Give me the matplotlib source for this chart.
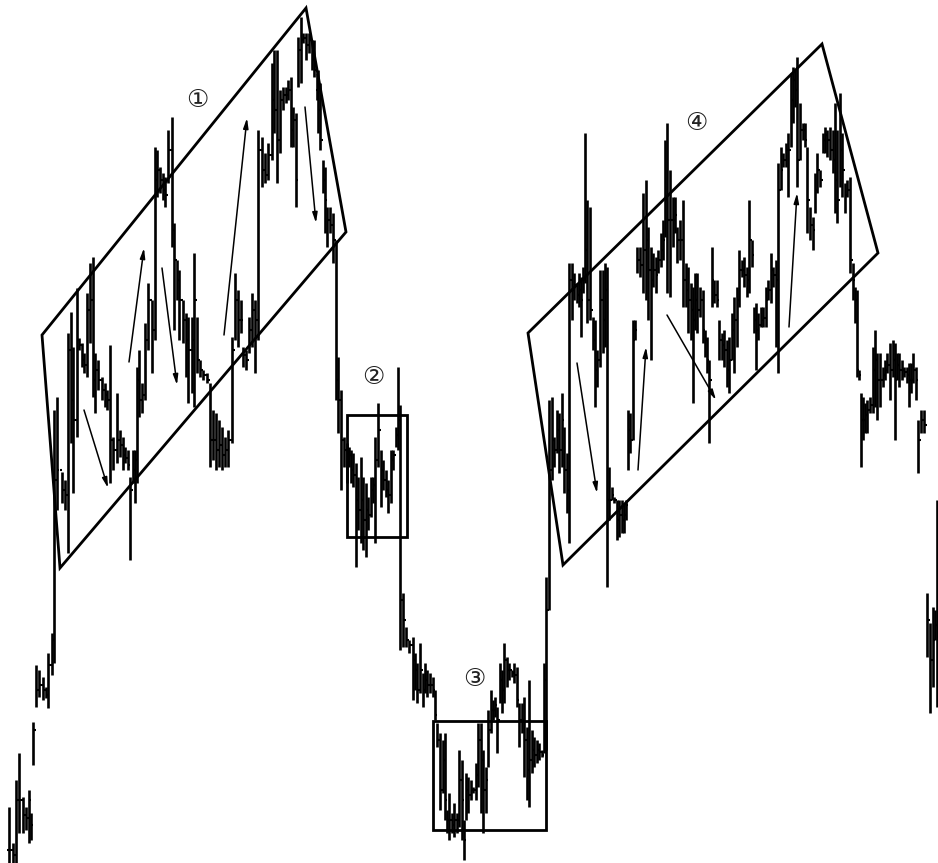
import matplotlib
matplotlib.use("Agg")
import matplotlib.pyplot as plt
from matplotlib.patches import Polygon, Rectangle

# bars: day, top of range, bottom of range, close
# (vertical scale runs downward, as in the picture)
day = [9, 13, 16, 19, 23, 26, 29, 31, 33, 36, 39, 43, 46, 48, 52, 54,
       57, 62, 65, 68, 71, 73, 77, 79, 82, 84, 87, 90, 93, 95, 98, 102,
       105, 107, 110, 113, 117, 120, 123, 125, 128, 130, 133, 135, 137, 139, 142, 145,
       148, 152, 155, 157, 160, 163, 165, 168, 172, 174, 177, 179, 183, 186, 188, 192,
       194, 197, 200, 203, 207, 210, 213, 216, 219, 222, 225, 228, 232, 235, 238, 241,
       243, 246, 249, 252, 255, 258, 262, 265, 268, 272, 274, 277, 280, 283, 286, 288,
       291, 293, 296, 298, 301, 303, 306, 309, 312, 314, 317, 318, 320, 323, 325, 327,
       330, 333, 336, 338, 341, 344, 347, 349, 351, 353, 356, 358, 361, 363, 366, 368,
       371, 373, 375, 378, 381, 383, 386, 388, 391, 393, 396, 398, 400, 403, 406, 409,
       413, 415, 417, 420, 423, 425, 427, 430, 433, 435, 437, 440, 443, 445, 447, 449,
       452, 454, 457, 459, 462, 464, 466, 468, 471, 473, 476, 478, 481, 483, 486, 488,
       491, 493, 495, 497, 500, 502, 504, 507, 509, 512, 514, 517, 519, 522, 524, 527,
       529, 532, 534, 537, 539, 542, 544, 546, 549, 552, 554, 557, 559, 562, 564, 567,
       569, 572, 574, 577, 579, 581, 583, 585, 587, 590, 593, 595, 597, 600, 603, 605,
       607, 609, 612, 614, 617, 619, 622, 624, 626, 628, 630, 633, 635, 637, 640, 643,
       646, 648, 651, 653, 656, 658, 661, 663, 665, 667, 670, 673, 675, 677, 680, 683,
       686, 688, 691, 693, 695, 697, 700, 703, 705, 707, 709, 712, 714, 717, 719, 722,
       724, 727, 729, 732, 734, 737, 739, 742, 744, 747, 749, 752, 754, 756, 758, 761,
       763, 766, 768, 771, 773, 776, 778, 781, 783, 786, 788, 791, 793, 795, 797, 800,
       803, 805, 807, 810, 813, 815, 817, 820, 823, 825, 827, 830, 833, 835, 837, 840,
       842, 845, 847, 850, 853, 855, 857, 859, 861, 863, 865, 867, 870, 873, 875, 877,
       880, 883, 885, 887, 890, 893, 895, 897, 899, 902, 904, 907, 909, 911, 913, 916,
       918, 921, 924, 927, 930, 933, 935, 937]

top = [807, 843, 780, 753, 797, 807, 790, 813, 722, 665, 670, 677, 687, 653, 633, 410,
       397, 472, 480, 333, 312, 347, 288, 338, 343, 353, 293, 263, 257, 353, 360, 377,
       383, 390, 345, 437, 393, 430, 437, 447, 450, 477, 450, 450, 367, 350, 383, 323,
       283, 300, 147, 150, 167, 173, 177, 130, 117, 223, 260, 270, 300, 313, 317, 317,
       253, 317, 360, 370, 373, 383, 410, 413, 420, 427, 437, 430, 337, 273, 290, 300,
       347, 350, 317, 293, 300, 130, 137, 153, 143, 63, 50, 50, 90, 87, 87, 80,
       77, 107, 113, 37, 17, 33, 33, 33, 40, 40, 73, 70, 83, 160, 167, 207,
       207, 213, 240, 357, 390, 437, 443, 447, 450, 453, 463, 477, 457, 477, 483, 497,
       477, 477, 437, 403, 450, 460, 470, 480, 450, 450, 427, 367, 405, 593, 627, 640,
       637, 653, 663, 643, 673, 663, 670, 673, 677, 690, 723, 733, 740, 733, 810, 793,
       813, 803, 813, 750, 760, 820, 773, 777, 780, 787, 763, 723, 723, 750, 767, 710,
       690, 700, 697, 707, 663, 670, 643, 657, 663, 670, 663, 667, 703, 703, 697, 727,
       680, 730, 737, 740, 743, 750, 663, 577, 400, 397, 437, 410, 413, 393, 427, 453,
       263, 263, 273, 283, 273, 277, 267, 133, 200, 207, 317, 320, 350, 270, 270, 263,
       267, 467, 487, 497, 500, 500, 500, 503, 500, 410, 413, 320, 320, 247, 247, 193,
       180, 227, 247, 253, 257, 250, 233, 220, 140, 123, 170, 197, 197, 227, 220, 200,
       263, 267, 283, 287, 273, 273, 287, 290, 330, 337, 360, 247, 280, 280, 320, 333,
       330, 340, 337, 313, 297, 287, 250, 260, 257, 267, 200, 240, 307, 303, 313, 307,
       307, 287, 280, 253, 267, 260, 163, 147, 153, 143, 133, 73, 67, 70, 57, 103,
       123, 123, 147, 207, 217, 173, 153, 170, 133, 127, 130, 127, 130, 103, 130, 93,
       133, 183, 180, 177, 263, 287, 290, 370, 393, 397, 403, 400, 397, 347, 330, 353,
       353, 367, 360, 353, 343, 340, 343, 353, 353, 360, 367, 367, 363, 363, 353, 367,
       420, 410, 410, 593, 623, 607, 610, 500]

bottom = [863, 863, 863, 833, 833, 830, 843, 840, 765, 707, 697, 700, 698, 708, 675, 663,
          510, 503, 510, 553, 443, 493, 437, 350, 367, 373, 377, 343, 397, 413, 390, 400,
          407, 410, 483, 470, 463, 457, 470, 463, 470, 560, 483, 503, 483, 417, 413, 400,
          350, 373, 340, 197, 193, 200, 207, 183, 247, 330, 300, 340, 343, 377, 403, 393,
          407, 373, 377, 380, 383, 467, 460, 470, 467, 470, 467, 467, 443, 340, 347, 333,
          367, 370, 353, 347, 373, 340, 187, 183, 180, 160, 133, 183, 153, 110, 103, 100,
          147, 147, 207, 87, 83, 43, 60, 53, 70, 77, 100, 133, 150, 193, 233, 247,
          233, 263, 400, 433, 490, 467, 483, 467, 483, 487, 567, 530, 543, 550, 557, 530,
          517, 503, 543, 467, 507, 490, 497, 513, 503, 470, 447, 450, 650, 647, 647, 653,
          700, 690, 703, 693, 707, 693, 697, 693, 697, 720, 747, 810, 793, 820, 833, 840,
          833, 837, 833, 827, 840, 860, 820, 813, 800, 793, 800, 787, 813, 833, 813, 767,
          733, 720, 717, 753, 703, 713, 703, 687, 680, 677, 683, 707, 747, 733, 777, 800,
          807, 773, 767, 763, 760, 757, 753, 750, 610, 480, 467, 453, 473, 467, 493, 513,
          543, 320, 300, 303, 307, 337, 293, 283, 323, 320, 350, 407, 387, 367, 353, 347,
          587, 520, 500, 503, 540, 537, 533, 533, 520, 470, 453, 440, 340, 273, 277, 293,
          300, 320, 360, 287, 293, 273, 267, 260, 237, 293, 297, 247, 233, 263, 260, 307,
          307, 333, 340, 403, 330, 333, 317, 343, 357, 373, 443, 307, 303, 307, 360, 360,
          367, 387, 393, 360, 373, 347, 307, 277, 287, 297, 293, 267, 333, 370, 340, 327,
          327, 327, 300, 303, 287, 347, 373, 190, 167, 167, 197, 147, 123, 107, 187, 160,
          140, 147, 233, 240, 250, 213, 193, 187, 153, 153, 157, 160, 173, 213, 223, 187,
          197, 213, 197, 273, 300, 323, 377, 380, 467, 440, 433, 433, 413, 413, 407, 420,
          407, 387, 380, 373, 400, 377, 440, 380, 387, 380, 377, 383, 407, 393, 383, 400,
          473, 433, 433, 657, 713, 687, 640, 707]

close = [850, 855, 800, 800, 815, 818, 800, 825, 730, 690, 685, 690, 695, 665, 640, 480,
         470, 490, 495, 350, 400, 420, 340, 345, 360, 365, 310, 300, 380, 370, 380, 390,
         395, 400, 440, 450, 440, 445, 455, 458, 465, 490, 470, 460, 380, 400, 395, 340,
         300, 330, 180, 170, 180, 190, 195, 150, 230, 260, 280, 300, 320, 340, 350, 340,
         300, 360, 370, 375, 380, 440, 440, 450, 445, 455, 450, 440, 350, 300, 320, 320,
         355, 360, 330, 310, 320, 150, 170, 175, 155, 100, 110, 140, 100, 95, 95, 90,
         130, 120, 180, 50, 40, 38, 45, 40, 60, 70, 90, 110, 140, 180, 200, 220,
         225, 240, 380, 400, 440, 450, 460, 455, 470, 475, 500, 510, 500, 520, 510, 515,
         490, 485, 460, 430, 470, 480, 490, 495, 460, 455, 435, 420, 600, 620, 640, 645,
         660, 670, 690, 670, 690, 680, 685, 685, 690, 715, 740, 790, 760, 800, 820, 820,
         825, 820, 820, 780, 800, 840, 790, 795, 790, 790, 775, 740, 760, 790, 780, 730,
         710, 710, 705, 720, 680, 690, 660, 670, 670, 673, 675, 700, 720, 720, 740, 770,
         760, 750, 755, 750, 752, 755, 680, 610, 470, 440, 450, 430, 450, 420, 470, 490,
         280, 290, 285, 295, 290, 300, 280, 250, 300, 310, 340, 370, 360, 300, 320, 290,
         500, 500, 495, 500, 520, 515, 520, 515, 505, 430, 440, 340, 330, 260, 265, 250,
         240, 270, 280, 270, 275, 260, 250, 240, 200, 220, 220, 220, 215, 240, 240, 280,
         290, 300, 310, 320, 300, 310, 300, 330, 340, 360, 380, 280, 295, 300, 340, 345,
         350, 370, 360, 330, 320, 300, 270, 270, 275, 280, 240, 255, 320, 330, 325, 320,
         318, 300, 290, 270, 275, 280, 190, 170, 160, 150, 150, 100, 80, 90, 160, 130,
         130, 140, 200, 225, 230, 190, 170, 180, 140, 135, 140, 150, 160, 180, 200, 150,
         170, 195, 190, 260, 280, 300, 370, 375, 420, 420, 415, 410, 405, 370, 360, 380,
         380, 375, 370, 365, 370, 360, 380, 365, 370, 370, 372, 375, 380, 380, 370, 380,
         440, 420, 425, 620, 660, 640, 625, 600]

opens = [close[0]] + close[:-1]

# annotation shapes
channel_1 = [(42, 335), (306, 8), (346, 232), (60, 568)]
channel_4 = [(528, 333), (822, 44), (878, 253), (563, 565)]
box_2 = (347, 415, 407, 537)
box_3 = (433, 721, 546, 830)
labels = ["①", "②", "③", "④"]
label_xy = [(197, 100), (373, 377), (474, 679), (696, 123)]
arrows = [((84, 410), (108, 488)), ((129, 362), (144, 248)),
          ((162, 268), (177, 385)), ((224, 335), (247, 118)),
          ((305, 107), (316, 223)), ((577, 363), (597, 493)),
          ((638, 470), (646, 347)), ((667, 315), (716, 400)),
          ((789, 327), (797, 193))]

fig = plt.figure(figsize=(9.38, 8.63), dpi=100)
ax = fig.add_axes([0, 0, 1, 1])
ax.set_xlim(0, 938)
ax.set_ylim(863, 0)
ax.axis("off")

tick = 1.8
ax.vlines(day, top, bottom, color="black", lw=1.9)
ax.hlines(opens, [d - tick for d in day], day, color="black", lw=1.5)
ax.hlines(close, day, [d + tick for d in day], color="black", lw=1.5)

for pts in (channel_1, channel_4):
    ax.add_patch(Polygon(pts, closed=True, fill=False, ec="black", lw=2.0))
for x0, y0, x1, y1 in (box_2, box_3):
    ax.add_patch(Rectangle((x0, y0), x1 - x0, y1 - y0, fill=False, ec="black", lw=2.0))

for (sx, sy), (ex, ey) in arrows:
    ax.annotate("", xy=(ex, ey), xytext=(sx, sy),
                arrowprops=dict(arrowstyle="-|>,head_length=0.6,head_width=0.15",
                                color="black", lw=1.1, shrinkA=0, shrinkB=0))

for s, (x, y) in zip(labels, label_xy):
    ax.text(x, y, s, ha="center", va="center", fontsize=18,
            family=["DejaVu Sans", "Noto Sans CJK JP"], color="#222222")

fig.savefig("out.png", dpi=100, facecolor="white")
